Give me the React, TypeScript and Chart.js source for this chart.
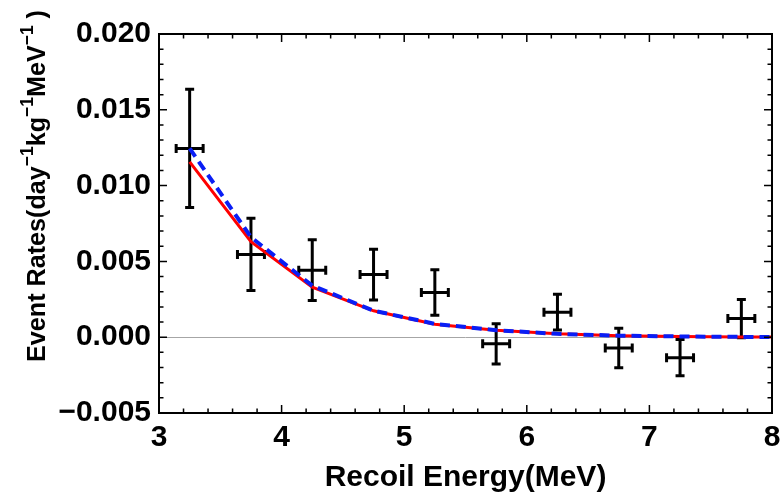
import React, { useEffect, useRef } from "react";
import { Chart, registerables } from "chart.js";

Chart.register(...registerables);

// ---- data ----
const energies = [3.25, 3.75, 4.25, 4.75, 5.25, 5.75, 6.25, 6.75, 7.25, 7.75];
const rates = [0.01245, 0.00546, 0.00442, 0.00413, 0.00295, -0.00044, 0.00165, -0.00071, -0.00135, 0.00123];
const rateErrors = [0.0039, 0.00238, 0.002, 0.00167, 0.0015, 0.00132, 0.00118, 0.0013, 0.0012, 0.00126];
const energyHalfWidth = 0.11;

const curveEnergies = [3.25, 3.75, 4.25, 4.75, 5.25, 5.75, 6.25, 6.75, 7.25, 7.75, 8.0];
const redCurve = [0.01157, 0.0063, 0.0033, 0.00174, 0.00086, 0.00046, 0.00022, 0.0001, 0.00005, 0.00002, 0.00001];
const blueCurve = [0.01245, 0.0066, 0.0034, 0.00175, 0.00088, 0.00046, 0.00022, 0.0001, 0.00005, 0.00002, 0.00001];

const xMin = 3;
const xMax = 8;
const yMin = -0.005;
const yMax = 0.02;
const xMajorStep = 1;
const xMinorStep = 0.2;
const yMajorStep = 0.005;
const yMinorStep = 0.001;

const xTitle = "Recoil Energy(MeV)";
const yTitleParts: { text: string; sup?: boolean }[] = [
  { text: "Event Rates(day" },
  { text: "\u22121", sup: true },
  { text: "kg" },
  { text: "\u22121", sup: true },
  { text: "MeV" },
  { text: "\u22121", sup: true },
  { text: " )" },
];

const FONT_FAMILY = '"Liberation Sans", Arial, sans-serif';

const decorPlugin = {
  id: "decor",
  beforeDatasetsDraw(chart: any) {
    const { ctx, chartArea: a, scales } = chart;
    const x = scales.x;
    const y = scales.y;
    ctx.save();
    // zero line
    ctx.strokeStyle = "#a6a6a6";
    ctx.lineWidth = 1;
    const y0 = Math.round(y.getPixelForValue(0)) + 0.5;
    ctx.beginPath();
    ctx.moveTo(a.left, y0);
    ctx.lineTo(a.right, y0);
    ctx.stroke();

    // error bars
    ctx.strokeStyle = "#000";
    ctx.lineWidth = 3;
    ctx.lineCap = "butt";
    const cap = 4.5;
    energies.forEach((e, i) => {
      const px = x.getPixelForValue(e);
      const py = y.getPixelForValue(rates[i]);
      const pyTop = y.getPixelForValue(rates[i] + rateErrors[i]);
      const pyBot = y.getPixelForValue(rates[i] - rateErrors[i]);
      const pxL = x.getPixelForValue(e - energyHalfWidth);
      const pxR = x.getPixelForValue(e + energyHalfWidth);
      ctx.beginPath();
      ctx.moveTo(px, pyTop);
      ctx.lineTo(px, pyBot);
      ctx.moveTo(px - cap, pyTop);
      ctx.lineTo(px + cap, pyTop);
      ctx.moveTo(px - cap, pyBot);
      ctx.lineTo(px + cap, pyBot);
      ctx.moveTo(pxL, py);
      ctx.lineTo(pxR, py);
      ctx.moveTo(pxL, py - cap);
      ctx.lineTo(pxL, py + cap);
      ctx.moveTo(pxR, py - cap);
      ctx.lineTo(pxR, py + cap);
      ctx.stroke();
    });
    ctx.restore();
  },
  afterDatasetsDraw(chart: any) {
    const { ctx, chartArea: a, scales } = chart;
    const x = scales.x;
    const y = scales.y;
    ctx.save();
    // ticks
    ctx.strokeStyle = "#000";
    ctx.lineWidth = 1.5;
    const major = 8;
    const minor = 4.5;
    const nx = Math.round((xMax - xMin) / xMinorStep);
    for (let k = 0; k <= nx; k++) {
      const v = xMin + k * xMinorStep;
      const isMajor = Math.abs(v / xMajorStep - Math.round(v / xMajorStep)) < 1e-6;
      const len = isMajor ? major : minor;
      const px = x.getPixelForValue(v);
      ctx.beginPath();
      ctx.moveTo(px, a.bottom);
      ctx.lineTo(px, a.bottom - len);
      ctx.moveTo(px, a.top);
      ctx.lineTo(px, a.top + len);
      ctx.stroke();
    }
    const ny = Math.round((yMax - yMin) / yMinorStep);
    for (let k = 0; k <= ny; k++) {
      const v = yMin + k * yMinorStep;
      const isMajor = Math.abs(v / yMajorStep - Math.round(v / yMajorStep)) < 1e-6;
      const len = isMajor ? major : minor;
      const py = y.getPixelForValue(v);
      ctx.beginPath();
      ctx.moveTo(a.left, py);
      ctx.lineTo(a.left + len, py);
      ctx.moveTo(a.right, py);
      ctx.lineTo(a.right - len, py);
      ctx.stroke();
    }
    // frame
    ctx.lineWidth = 2;
    ctx.strokeRect(a.left, a.top, a.right - a.left, a.bottom - a.top);

    // x title
    ctx.fillStyle = "#000";
    ctx.font = `bold 30px ${FONT_FAMILY}`;
    ctx.textAlign = "center";
    ctx.textBaseline = "middle";
    ctx.fillText(xTitle, (a.left + a.right) / 2, 478);

    // y title with superscripts
    const base = 26;
    const supSize = 18;
    const raise = 12;
    const targetLength = 352;
    let total = 0;
    yTitleParts.forEach((p) => {
      ctx.font = `bold ${p.sup ? supSize : base}px ${FONT_FAMILY}`;
      total += ctx.measureText(p.text).width;
    });
    ctx.translate(45, 362);
    ctx.rotate(-Math.PI / 2);
    ctx.scale(targetLength / total, 1);
    ctx.textAlign = "left";
    ctx.textBaseline = "alphabetic";
    let cx = 0;
    yTitleParts.forEach((p) => {
      ctx.font = `bold ${p.sup ? supSize : base}px ${FONT_FAMILY}`;
      ctx.fillText(p.text, cx, p.sup ? -raise : 0);
      cx += ctx.measureText(p.text).width;
    });
    ctx.restore();
  },
};

export default function App() {
  const ref = useRef<HTMLCanvasElement | null>(null);
  useEffect(() => {
    if (!ref.current) return;
    const tickFont = { family: FONT_FAMILY, size: 30, weight: "bold" as const };
    const chart = new Chart(ref.current, {
      type: "line",
      data: {
        datasets: [
          {
            type: "line",
            label: "blue",
            data: curveEnergies.map((e, i) => ({ x: e, y: blueCurve[i] })),
            borderColor: "#0a1ef5",
            borderWidth: 4,
            borderDash: [10, 6],
            pointRadius: 0,
            tension: 0,
            fill: false,
          },
          {
            type: "line",
            label: "red",
            data: curveEnergies.map((e, i) => ({ x: e, y: redCurve[i] })),
            borderColor: "#ff0000",
            borderWidth: 3,
            pointRadius: 0,
            tension: 0,
            fill: false,
          },
          {
            type: "scatter",
            label: "data",
            data: energies.map((e, i) => ({ x: e, y: rates[i] })),
            pointRadius: 0,
            showLine: false,
          },
        ],
      },
      options: {
        responsive: false,
        animation: false,
        devicePixelRatio: 1,
        layout: { padding: { top: 34, right: 9, left: 0, bottom: 0 } },
        plugins: { legend: { display: false }, tooltip: { enabled: false } },
        scales: {
          x: {
            type: "linear",
            min: xMin,
            max: xMax,
            grid: { display: false, drawTicks: false },
            border: { display: false },
            afterFit(s: any) {
              s.height = 88;
              s.paddingLeft = 0;
              s.paddingRight = 0;
            },
            ticks: {
              stepSize: xMajorStep,
              font: tickFont,
              color: "#000",
              padding: 7,
              maxRotation: 0,
              callback: (v: any) => String(v),
            },
          },
          y: {
            type: "linear",
            min: yMin,
            max: yMax,
            grid: { display: false, drawTicks: false },
            border: { display: false },
            afterFit(s: any) {
              s.width = 159;
              s.paddingTop = 0;
              s.paddingBottom = 0;
            },
            ticks: {
              stepSize: yMajorStep,
              font: tickFont,
              color: "#000",
              padding: 8,
              callback: (v: any) => {
                const n = Number(v);
                const s = Math.abs(n).toFixed(3);
                return n < -1e-9 ? "\u2212" + s : s;
              },
            },
          },
        },
      },
      plugins: [decorPlugin],
    });
    return () => chart.destroy();
  }, []);
  return (
    <div style={{ position: "fixed", left: 0, top: 0, width: 781, height: 501, background: "#fff" }}>
      <canvas ref={ref} width={781} height={501} style={{ display: "block" }} />
    </div>
  );
}
